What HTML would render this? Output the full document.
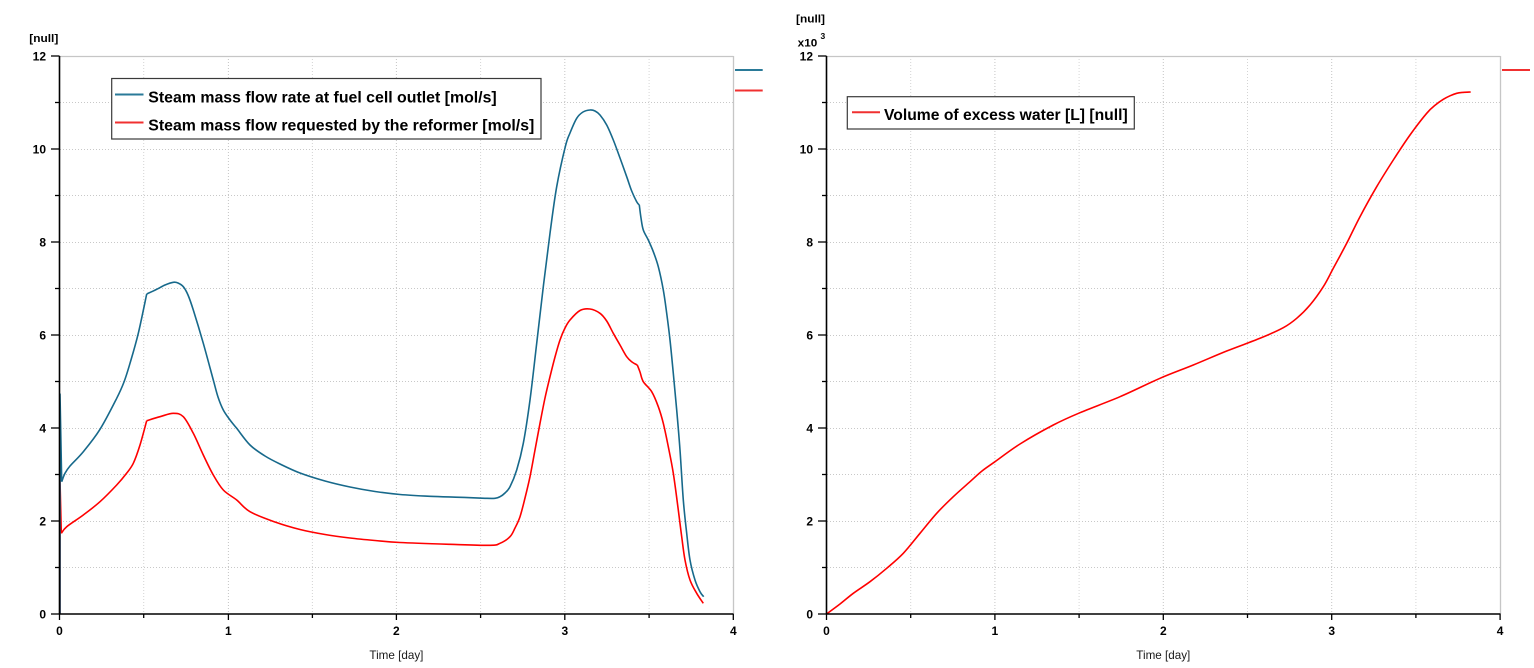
<!DOCTYPE html>
<html>
<head>
<meta charset="utf-8">
<style>
  html, body { margin: 0; padding: 0; background: #ffffff; }
  svg { display: block; }
  text { font-family: "Liberation Sans", "DejaVu Sans", sans-serif; }
</style>
</head>
<body>
<svg width="1534" height="668" viewBox="0 0 1534 668" xmlns="http://www.w3.org/2000/svg">
  <rect x="0" y="0" width="1534" height="668" fill="#ffffff"/>

  <!-- ================= LEFT CHART ================= -->
  <g>
    <g stroke="#d4d4d4" stroke-width="1" stroke-dasharray="1 2" fill="none">
      <line x1="143.7" y1="56" x2="143.7" y2="614"/>
      <line x1="312.4" y1="56" x2="312.4" y2="614"/>
      <line x1="480.6" y1="56" x2="480.6" y2="614"/>
      <line x1="649.1" y1="56" x2="649.1" y2="614"/>
    </g>
    <g stroke="#c4c4c4" stroke-width="1" stroke-dasharray="1 2" fill="none">
      <line x1="228.4" y1="56" x2="228.4" y2="614"/>
      <line x1="396.4" y1="56" x2="396.4" y2="614"/>
      <line x1="564.8" y1="56" x2="564.8" y2="614"/>
    </g>
    <g stroke="#c8c8c8" stroke-width="1" stroke-dasharray="1 2" fill="none">
      <line x1="60" y1="567.5" x2="733" y2="567.5"/>
      <line x1="60" y1="521.5" x2="733" y2="521.5"/>
      <line x1="60" y1="474.5" x2="733" y2="474.5"/>
      <line x1="60" y1="428.5" x2="733" y2="428.5"/>
      <line x1="60" y1="381.5" x2="733" y2="381.5"/>
      <line x1="60" y1="335.5" x2="733" y2="335.5"/>
      <line x1="60" y1="288.5" x2="733" y2="288.5"/>
      <line x1="60" y1="242.5" x2="733" y2="242.5"/>
      <line x1="60" y1="195.5" x2="733" y2="195.5"/>
      <line x1="60" y1="149.5" x2="733" y2="149.5"/>
      <line x1="60" y1="102.5" x2="733" y2="102.5"/>
    </g>
    <line x1="59.5" y1="56.5" x2="733.5" y2="56.5" stroke="#c6c6c6" stroke-width="1.3"/>
    <line x1="733.5" y1="56" x2="733.5" y2="614" stroke="#c6c6c6" stroke-width="1.3"/>

    <!-- red series -->
    <g fill="none" stroke="#ff0000" stroke-width="1.6" stroke-linejoin="round">
      <path d="M60,614 L60,480 L61.3,533.3"/>
      <path class="smooth" d="M61.3,533.3 L66.7,526.7 L83.3,515 L100,501.7 L116.7,485 L126,474 L133.3,463.3 L140,445 L146.7,420.7"/>
      <path class="smooth" d="M146.7,420.7 L160,416.7 L173.3,413.3 L183.3,416.7 L193.3,433.3 L203.3,455 L213.3,475 L223.3,490 L236.7,500 L250,511.7 L275,522 L300,529.5 L325,534.5 L350,538 L375,540.5 L400,542.5 L450,544.3 L490,545.3 L500,543.3 L510,536.7 L515,528 L520,516.7 L525,498 L530,476.7 L535,450 L540,423.3 L545,398 L550,376.7 L555,357 L560,340 L565,328 L570,320 L580,310.5 L590,309 L600,313.3 L606.7,321 L613.3,333.3 L620,345 L626.7,356.7 L632,362 L637.3,365"/>
      <path class="smooth" d="M637.3,365 L640,372 L643.3,381.7 L651.7,391.7 L658.3,406.7 L663.3,423.3 L668.3,446.7 L673.3,473.3 L678.3,510 L681.7,536.7 L685,560 L690,580 L696.7,593.3 L703.3,603.3"/>
    </g>
    <!-- blue series -->
    <g fill="none" stroke="#17698b" stroke-width="1.6" stroke-linejoin="round">
      <path d="M60,614 L60,394 L61.7,481.7"/>
      <path class="smooth" d="M61.7,481.7 L65,473.3 L70,466 L83.3,451.7 L100,429.3 L116.7,398.3 L124,382 L130,363.3 L138.3,333.3 L146.7,294"/>
      <path class="smooth" d="M146.7,294 L156.7,289.3 L165,285 L173.3,282.3 L178,283 L183.3,286.7 L188,295 L193.3,310 L203.3,343.3 L213.3,380 L218,397 L223.3,410 L230,420 L236.7,428.3 L250,445 L265,456 L280,464 L300,473 L325,481 L350,487 L375,491.5 L400,494.5 L430,496.3 L460,497.3 L485,498.3 L495,498.3 L500,496.7 L505,493 L510,486.7 L516.7,470 L523.3,443.3 L530,400 L536.7,343.3 L543.3,286.7 L550,233.3 L556.7,186.7 L565.3,146.7 L570,133 L576.7,118.3 L583,112 L590,110 L595,111 L600,115 L606.7,125 L613.3,140 L620,158 L626.7,176.7 L631.7,191 L636.7,201.7 L639.3,205"/>
      <path class="smooth" d="M639.3,205 L641,218 L643.3,230 L648.3,240 L653.3,251.7 L658.3,266.7 L663.3,290 L666.7,313.3 L670,340 L673.3,373.3 L676.7,410 L680,450 L683.3,500 L686.7,533.3 L690,560 L695,580 L700,591.7 L703.7,596.7"/>
    </g>

    <line x1="59.5" y1="56" x2="59.5" y2="614.5" stroke="#000" stroke-width="1.6"/>
    <line x1="59" y1="614" x2="733.5" y2="614" stroke="#000" stroke-width="1.6"/>
    <g stroke="#000" stroke-width="1.3">
      <line x1="51" y1="614" x2="59.5" y2="614"/>
      <line x1="55" y1="567.5" x2="59.5" y2="567.5"/>
      <line x1="51" y1="521" x2="59.5" y2="521"/>
      <line x1="55" y1="474.5" x2="59.5" y2="474.5"/>
      <line x1="51" y1="428" x2="59.5" y2="428"/>
      <line x1="55" y1="381.5" x2="59.5" y2="381.5"/>
      <line x1="51" y1="335" x2="59.5" y2="335"/>
      <line x1="55" y1="288.5" x2="59.5" y2="288.5"/>
      <line x1="51" y1="242" x2="59.5" y2="242"/>
      <line x1="55" y1="195.5" x2="59.5" y2="195.5"/>
      <line x1="51" y1="149" x2="59.5" y2="149"/>
      <line x1="55" y1="102.5" x2="59.5" y2="102.5"/>
      <line x1="51" y1="56" x2="59.5" y2="56"/>
    </g>
    <g stroke="#000" stroke-width="1.3">
      <line x1="59.5" y1="614" x2="59.5" y2="620"/>
      <line x1="143.7" y1="614" x2="143.7" y2="618"/>
      <line x1="228.4" y1="614" x2="228.4" y2="620"/>
      <line x1="312.4" y1="614" x2="312.4" y2="618"/>
      <line x1="396.4" y1="614" x2="396.4" y2="620"/>
      <line x1="480.6" y1="614" x2="480.6" y2="618"/>
      <line x1="564.8" y1="614" x2="564.8" y2="620"/>
      <line x1="649.1" y1="614" x2="649.1" y2="618"/>
      <line x1="733.3" y1="614" x2="733.3" y2="620"/>
    </g>
    <g font-size="12" font-weight="bold" fill="#000" text-anchor="end">
      <text x="46" y="618.5">0</text>
      <text x="46" y="525.5">2</text>
      <text x="46" y="432.5">4</text>
      <text x="46" y="339.5">6</text>
      <text x="46" y="246.5">8</text>
      <text x="46" y="153.5">10</text>
      <text x="46" y="60.5">12</text>
    </g>
    <g font-size="12" font-weight="bold" fill="#000" text-anchor="middle">
      <text x="59.5" y="635">0</text>
      <text x="228.4" y="635">1</text>
      <text x="396.4" y="635">2</text>
      <text x="564.8" y="635">3</text>
      <text x="733.3" y="635">4</text>
    </g>
    <text x="369.4" y="659" font-size="12" fill="#1a1a1a" textLength="54" lengthAdjust="spacingAndGlyphs">Time [day]</text>
    <text x="29.3" y="42" font-size="11" font-weight="bold" fill="#000" textLength="29" lengthAdjust="spacingAndGlyphs">[null]</text>

    <rect x="111.7" y="78.5" width="429.3" height="60.5" fill="#ffffff" stroke="#3a3a3a" stroke-width="1.2"/>
    <line x1="115" y1="94.5" x2="143.5" y2="94.5" stroke="#2a7a98" stroke-width="2"/>
    <line x1="115" y1="122.5" x2="143.5" y2="122.5" stroke="#f03030" stroke-width="2"/>
    <text x="148.3" y="102.3" font-size="16" font-weight="bold" fill="#000" textLength="348.4" lengthAdjust="spacingAndGlyphs">Steam mass flow rate at fuel cell outlet [mol/s]</text>
    <text x="148.3" y="130.6" font-size="16" font-weight="bold" fill="#000" textLength="386" lengthAdjust="spacingAndGlyphs">Steam mass flow requested by the reformer [mol/s]</text>

    <line x1="735" y1="70" x2="762.7" y2="70" stroke="#2a7a98" stroke-width="2"/>
    <line x1="735" y1="90.5" x2="762.7" y2="90.5" stroke="#f03030" stroke-width="2"/>
  </g>

  <!-- ================= RIGHT CHART ================= -->
  <g>
    <g stroke="#d4d4d4" stroke-width="1" stroke-dasharray="1 2" fill="none">
      <line x1="910.7" y1="56" x2="910.7" y2="614"/>
      <line x1="1079.1" y1="56" x2="1079.1" y2="614"/>
      <line x1="1247.5" y1="56" x2="1247.5" y2="614"/>
      <line x1="1415.9" y1="56" x2="1415.9" y2="614"/>
    </g>
    <g stroke="#c4c4c4" stroke-width="1" stroke-dasharray="1 2" fill="none">
      <line x1="994.9" y1="56" x2="994.9" y2="614"/>
      <line x1="1163.3" y1="56" x2="1163.3" y2="614"/>
      <line x1="1331.7" y1="56" x2="1331.7" y2="614"/>
    </g>
    <g stroke="#c8c8c8" stroke-width="1" stroke-dasharray="1 2" fill="none">
      <line x1="827" y1="567.5" x2="1500" y2="567.5"/>
      <line x1="827" y1="521.5" x2="1500" y2="521.5"/>
      <line x1="827" y1="474.5" x2="1500" y2="474.5"/>
      <line x1="827" y1="428.5" x2="1500" y2="428.5"/>
      <line x1="827" y1="381.5" x2="1500" y2="381.5"/>
      <line x1="827" y1="335.5" x2="1500" y2="335.5"/>
      <line x1="827" y1="288.5" x2="1500" y2="288.5"/>
      <line x1="827" y1="242.5" x2="1500" y2="242.5"/>
      <line x1="827" y1="195.5" x2="1500" y2="195.5"/>
      <line x1="827" y1="149.5" x2="1500" y2="149.5"/>
      <line x1="827" y1="102.5" x2="1500" y2="102.5"/>
    </g>
    <line x1="826.5" y1="56.5" x2="1500.5" y2="56.5" stroke="#c6c6c6" stroke-width="1.3"/>
    <line x1="1500.5" y1="56" x2="1500.5" y2="614" stroke="#c6c6c6" stroke-width="1.3"/>

    <path class="smooth" fill="none" stroke="#ff0000" stroke-width="1.6" stroke-linejoin="round"
      d="M826.5,614 L840,604 L853.3,593.3 L870,581.7 L886.7,568.3 L903.3,553.3 L920,533.3 L936.7,513.3 L953.3,496.7 L970,481.7 L982,471 L995,461.7 L1020,444 L1053.3,425 L1080,412.7 L1120,396.7 L1160,378.3 L1193.3,365 L1226.7,351 L1260,338.3 L1283.3,327.7 L1296.7,318.3 L1310,305 L1323.3,286.7 L1333.3,268.3 L1346.7,243.3 L1360,216.7 L1376.7,186.7 L1393.3,160 L1410,135 L1426.7,113.3 L1436,104.5 L1443.3,99.3 L1450,95.8 L1456.7,93.3 L1463,92.4 L1470.7,92"/>

    <line x1="826.5" y1="56" x2="826.5" y2="614.5" stroke="#000" stroke-width="1.6"/>
    <line x1="826" y1="614" x2="1500.5" y2="614" stroke="#000" stroke-width="1.6"/>
    <g stroke="#000" stroke-width="1.3">
      <line x1="818" y1="614" x2="826.5" y2="614"/>
      <line x1="822" y1="567.5" x2="826.5" y2="567.5"/>
      <line x1="818" y1="521" x2="826.5" y2="521"/>
      <line x1="822" y1="474.5" x2="826.5" y2="474.5"/>
      <line x1="818" y1="428" x2="826.5" y2="428"/>
      <line x1="822" y1="381.5" x2="826.5" y2="381.5"/>
      <line x1="818" y1="335" x2="826.5" y2="335"/>
      <line x1="822" y1="288.5" x2="826.5" y2="288.5"/>
      <line x1="818" y1="242" x2="826.5" y2="242"/>
      <line x1="822" y1="195.5" x2="826.5" y2="195.5"/>
      <line x1="818" y1="149" x2="826.5" y2="149"/>
      <line x1="822" y1="102.5" x2="826.5" y2="102.5"/>
      <line x1="818" y1="56" x2="826.5" y2="56"/>
    </g>
    <g stroke="#000" stroke-width="1.3">
      <line x1="826.5" y1="614" x2="826.5" y2="620"/>
      <line x1="910.7" y1="614" x2="910.7" y2="618"/>
      <line x1="994.9" y1="614" x2="994.9" y2="620"/>
      <line x1="1079.1" y1="614" x2="1079.1" y2="618"/>
      <line x1="1163.3" y1="614" x2="1163.3" y2="620"/>
      <line x1="1247.5" y1="614" x2="1247.5" y2="618"/>
      <line x1="1331.7" y1="614" x2="1331.7" y2="620"/>
      <line x1="1415.9" y1="614" x2="1415.9" y2="618"/>
      <line x1="1500.1" y1="614" x2="1500.1" y2="620"/>
    </g>
    <g font-size="12" font-weight="bold" fill="#000" text-anchor="end">
      <text x="813" y="618.5">0</text>
      <text x="813" y="525.5">2</text>
      <text x="813" y="432.5">4</text>
      <text x="813" y="339.5">6</text>
      <text x="813" y="246.5">8</text>
      <text x="813" y="153.5">10</text>
      <text x="813" y="60.5">12</text>
    </g>
    <g font-size="12" font-weight="bold" fill="#000" text-anchor="middle">
      <text x="826.5" y="635">0</text>
      <text x="994.9" y="635">1</text>
      <text x="1163.3" y="635">2</text>
      <text x="1331.7" y="635">3</text>
      <text x="1500.1" y="635">4</text>
    </g>
    <text x="1136.3" y="659" font-size="12" fill="#1a1a1a" textLength="54" lengthAdjust="spacingAndGlyphs">Time [day]</text>
    <text x="796" y="22.5" font-size="11" font-weight="bold" fill="#000" textLength="29" lengthAdjust="spacingAndGlyphs">[null]</text>
    <text x="797.7" y="46.5" font-size="11" font-weight="bold" fill="#000" textLength="19.6" lengthAdjust="spacingAndGlyphs">x10</text>
    <text x="820.5" y="39" font-size="8.5" font-weight="bold" fill="#000">3</text>

    <rect x="847.3" y="96.7" width="287" height="32.3" fill="#ffffff" stroke="#3a3a3a" stroke-width="1.2"/>
    <line x1="852" y1="112.3" x2="880" y2="112.3" stroke="#f03030" stroke-width="2"/>
    <text x="884" y="120" font-size="16" font-weight="bold" fill="#000" textLength="243.7" lengthAdjust="spacingAndGlyphs">Volume of excess water [L] [null]</text>

    <line x1="1502" y1="70" x2="1530" y2="70" stroke="#f03030" stroke-width="2"/>
  </g>
</svg>
<script>
(function () {
  var paths = document.querySelectorAll('path.smooth');
  for (var k = 0; k < paths.length; k++) {
    var d = paths[k].getAttribute('d');
    var nums = d.match(/-?\d+(\.\d+)?/g);
    if (!nums || nums.length < 6) continue;
    var p = [];
    for (var i = 0; i + 1 < nums.length; i += 2) p.push([parseFloat(nums[i]), parseFloat(nums[i + 1])]);
    var out = 'M' + p[0][0] + ',' + p[0][1];
    for (var j = 0; j < p.length - 1; j++) {
      var p0 = p[j > 0 ? j - 1 : j], p1 = p[j], p2 = p[j + 1], p3 = p[j + 2 < p.length ? j + 2 : j + 1];
      var c1x = p1[0] + (p2[0] - p0[0]) / 6, c1y = p1[1] + (p2[1] - p0[1]) / 6;
      var c2x = p2[0] - (p3[0] - p1[0]) / 6, c2y = p2[1] - (p3[1] - p1[1]) / 6;
      out += ' C' + c1x.toFixed(2) + ',' + c1y.toFixed(2) + ' ' + c2x.toFixed(2) + ',' + c2y.toFixed(2) + ' ' + p2[0] + ',' + p2[1];
    }
    paths[k].setAttribute('d', out);
  }
})();
</script>
</body>
</html>
